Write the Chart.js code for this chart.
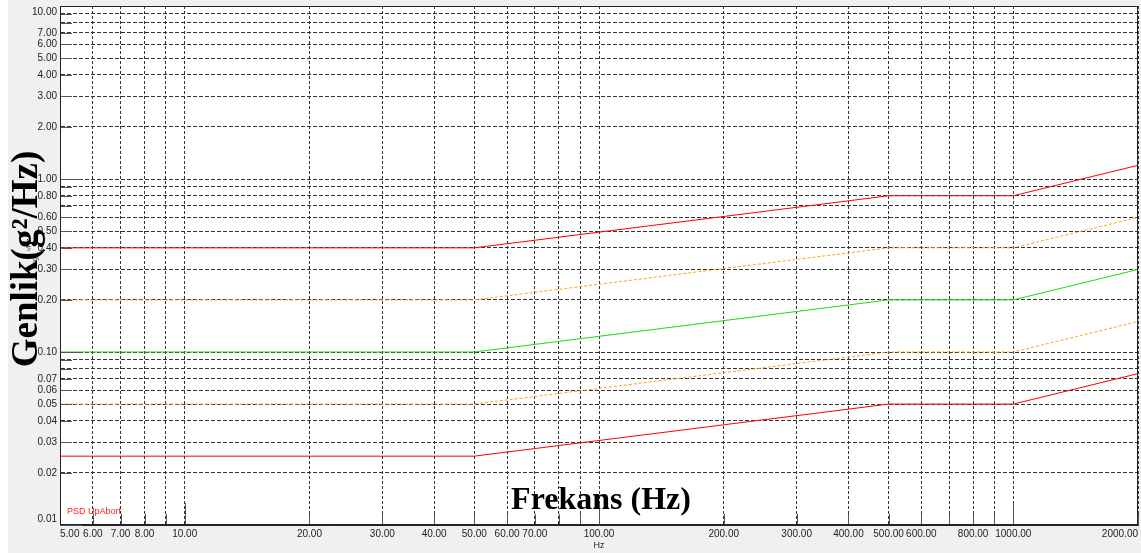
<!DOCTYPE html>
<html>
<head>
<meta charset="utf-8">
<script src="https://cdn.jsdelivr.net/npm/chart.js@4.4.0/dist/chart.umd.min.js"></script>
<style>
  html, body { margin: 0; padding: 0; background: #f0f0f0; }
  #wrap { width: 1141px; height: 553px; }
</style>
</head>
<body>
<div id="wrap"><canvas id="psdChart" width="1141" height="553"></canvas></div>
<script>
// profile break points (Hz)
const freq = [5, 50, 500, 1000, 2000];

// PSD levels g^2/Hz
const abortHigh = [0.4, 0.4, 0.8, 0.8, 1.2];
const alarmHigh = [0.2, 0.2, 0.4, 0.4, 0.6];
const reference = [0.1, 0.1, 0.2, 0.2, 0.3];
const alarmLow = [0.05, 0.05, 0.1, 0.1, 0.15];
const abortLow = [0.025, 0.025, 0.05, 0.05, 0.075];

// grid / tick values
const xTicks = [5, 6, 7, 8, 9, 10, 20, 30, 40, 50, 60, 70, 80, 90, 100, 200, 300, 400, 500, 600, 700, 800, 900, 1000, 2000];
const xNoLabel = [9, 80, 90, 700, 900];
const yTicks = [0.01, 0.02, 0.03, 0.04, 0.05, 0.06, 0.07, 0.08, 0.09,
                0.1, 0.2, 0.3, 0.4, 0.5, 0.6, 0.7, 0.8, 0.9,
                1, 2, 3, 4, 5, 6, 7, 8, 9, 10];
const yNoLabel = [0.08, 0.09, 0.7, 0.9, 8, 9];

function toPoints(vals) {
    return freq.map(function(f, i) { return {x: f, y: vals[i]}; });
}

function isDecade(v) {
    const l = Math.log10(v);
    return Math.abs(l - Math.round(l)) < 1e-9;
}

function hasValue(list, v) {
    return list.some(function(t) { return Math.abs(t - v) < 1e-9; });
}

const tickFont = {family: 'Liberation Sans, Arial, sans-serif', size: 10};

// grey background, white plot, frame
const bgPlugin = {
    id: 'bg',
    beforeDraw(chart) {
        const ctx = chart.ctx;
        const a = chart.chartArea;
        ctx.save();
        ctx.fillStyle = '#f0f0f0';
        ctx.fillRect(0, 0, chart.width, chart.height);
        ctx.fillStyle = '#ffffff';
        ctx.fillRect(0, 0, 8, chart.height);
        ctx.fillRect(a.left, a.top, a.right - a.left, a.bottom - a.top);
        ctx.restore();
    },
    afterDraw(chart) {
        const ctx = chart.ctx;
        const a = chart.chartArea;
        ctx.save();
        ctx.strokeStyle = '#222';
        ctx.lineWidth = 1;
        ctx.strokeRect(Math.round(a.left) + 0.5, Math.round(a.top) + 0.5,
                       Math.round(a.right - a.left) - 1, Math.round(a.bottom - a.top) - 1);
        ctx.restore();
    }
};

// tick marks drawn inside the plot, on top of the lines
const innerTicks = {
    id: 'innerTicks',
    afterDatasetsDraw(chart) {
        const ctx = chart.ctx;
        const a = chart.chartArea;
        const xs = chart.scales.x;
        const ys = chart.scales.y;
        ctx.save();
        ctx.strokeStyle = '#555';
        ctx.lineWidth = 1;
        ctx.beginPath();
        xTicks.forEach(function(v) {
            const px = Math.round(xs.getPixelForValue(v)) + 0.5;
            const len = isDecade(v) ? 22 : 11;
            ctx.moveTo(px, a.bottom);
            ctx.lineTo(px, a.bottom - len);
        });
        yTicks.forEach(function(v) {
            const py = Math.round(ys.getPixelForValue(v)) + 0.5;
            const len = isDecade(v) ? 22 : 12;
            ctx.moveTo(a.left, py);
            ctx.lineTo(a.left + len, py);
        });
        ctx.stroke();
        ctx.restore();
    }
};

// overlay titles and the little legend text
const overlayText = {
    id: 'overlayText',
    afterDraw(chart) {
        const ctx = chart.ctx;
        ctx.save();

        ctx.fillStyle = '#ff2020';
        ctx.font = '9px "Liberation Sans", Arial, sans-serif';
        ctx.textAlign = 'left';
        ctx.textBaseline = 'middle';
        ctx.fillText('PSD UpAbort', 67, 512);

        // original small axis title, mostly hidden
        ctx.fillStyle = '#333';
        ctx.font = '7px "Liberation Sans", Arial, sans-serif';
        ctx.save();
        ctx.translate(35, 263);
        ctx.rotate(-Math.PI / 2);
        ctx.textAlign = 'center';
        ctx.fillText('Log', 0, 0);
        ctx.restore();
        ctx.save();
        ctx.translate(29, 245);
        ctx.rotate(-Math.PI / 2);
        ctx.textAlign = 'center';
        ctx.fillText('²/Hz', 0, 0);
        ctx.restore();

        ctx.fillStyle = '#000';
        ctx.font = 'bold 32px "Liberation Serif", "Times New Roman", serif';
        ctx.textAlign = 'center';
        ctx.textBaseline = 'alphabetic';
        ctx.fillText('Frekans (Hz)', 601, 509);

        ctx.save();
        ctx.translate(37, 259);
        ctx.rotate(-Math.PI / 2);
        ctx.font = 'bold 37px "Liberation Serif", "Times New Roman", serif';
        ctx.fillText('Genlik(g²/Hz)', 0, 0);
        ctx.restore();

        ctx.restore();
    }
};

const lineBase = {borderWidth: 1, pointRadius: 0, fill: false, tension: 0};

const ctx = document.getElementById('psdChart').getContext('2d');

const psdChart = new Chart(ctx, {
    type: 'line',
    data: {
        datasets: [
            Object.assign({label: 'Abort low', data: toPoints(abortLow), borderColor: '#ff0000'}, lineBase),
            Object.assign({label: 'Alarm low', data: toPoints(alarmLow), borderColor: '#ffa31a', borderDash: [3, 2]}, lineBase),
            Object.assign({label: 'Reference', data: toPoints(reference), borderColor: '#19dc19'}, lineBase),
            Object.assign({label: 'Alarm high', data: toPoints(alarmHigh), borderColor: '#ffa31a', borderDash: [3, 2]}, lineBase),
            Object.assign({label: 'PSD UpAbort', data: toPoints(abortHigh), borderColor: '#ff0000'}, lineBase)
        ]
    },
    options: {
        responsive: false,
        animation: false,
        devicePixelRatio: 1,
        layout: {padding: {top: 6, right: 3, left: 0, bottom: 0}},
        plugins: {
            legend: {display: false},
            tooltip: {enabled: false}
        },
        scales: {
            x: {
                type: 'logarithmic',
                min: 5,
                max: 2000,
                afterBuildTicks: function(s) {
                    s.ticks = xTicks.map(function(v) { return {value: v}; });
                },
                afterFit: function(s) {
                    s.height = 28;
                    s.paddingLeft = 0;
                    s.paddingRight = 0;
                },
                ticks: {
                    autoSkip: false,
                    maxRotation: 0,
                    minRotation: 0,
                    align: 'inner',
                    padding: 3,
                    color: '#222',
                    font: tickFont,
                    callback: function(v) {
                        return hasValue(xNoLabel, v) ? '' : Number(v).toFixed(2);
                    }
                },
                grid: {color: '#333', lineWidth: 1, drawTicks: false},
                border: {display: true, color: '#222', dash: [3, 2]},
                title: {
                    display: true,
                    text: 'Hz',
                    color: '#222',
                    font: {family: 'Liberation Sans, Arial, sans-serif', size: 9},
                    padding: {top: 0, bottom: 2}
                }
            },
            y: {
                type: 'logarithmic',
                min: 0.01,
                max: 10,
                afterBuildTicks: function(s) {
                    s.ticks = yTicks.map(function(v) { return {value: v}; });
                },
                afterFit: function(s) {
                    s.width = 60;
                    s.paddingTop = 0;
                    s.paddingBottom = 0;
                },
                ticks: {
                    autoSkip: false,
                    padding: 3,
                    color: '#222',
                    font: tickFont,
                    callback: function(v) {
                        if (hasValue(yNoLabel, v)) return '';
                        const txt = Number(v).toFixed(2);
                        // keep the end labels inside the frame
                        if (Math.abs(v - 10) < 1e-9) return ['', txt];
                        if (Math.abs(v - 0.01) < 1e-9) return [txt, ''];
                        return txt;
                    }
                },
                grid: {color: '#333', lineWidth: 1, drawTicks: false},
                border: {display: true, color: '#222', dash: [4, 2]}
            }
        }
    },
    plugins: [bgPlugin, innerTicks, overlayText]
});
</script>
</body>
</html>
